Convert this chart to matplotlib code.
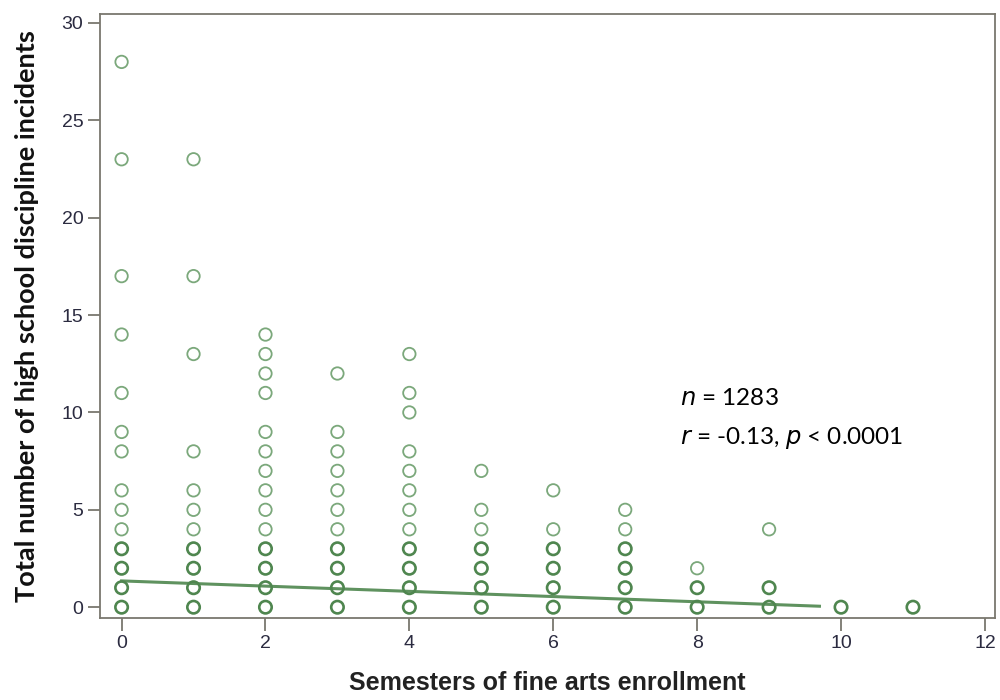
import numpy as np
import matplotlib
matplotlib.use("Agg")
import matplotlib.pyplot as plt

# distinct (semesters, incidents) values seen in each column
semesters = [0, 1, 2, 3, 4, 5, 6, 7, 8, 9, 10, 11]
incidents = [
    [0, 1, 2, 3, 4, 5, 6, 8, 9, 11, 14, 17, 23, 28],
    [0, 1, 2, 3, 4, 5, 6, 8, 13, 17, 23],
    [0, 1, 2, 3, 4, 5, 6, 7, 8, 9, 11, 12, 13, 14],
    [0, 1, 2, 3, 4, 5, 6, 7, 8, 9, 12],
    [0, 1, 2, 3, 4, 5, 6, 7, 8, 10, 11, 13],
    [0, 1, 2, 3, 4, 5, 7],
    [0, 1, 2, 3, 4, 6],
    [0, 1, 2, 3, 4, 5],
    [0, 1, 2],
    [0, 1, 4],
    [0],
    [0],
]
# fitted line end points (x) and values
fit_x = [0, 9.7]
fit_y = [1.35, 0.05]

xs = np.concatenate([[s] * len(v) for s, v in zip(semesters, incidents)])
ys = np.concatenate(incidents)

fig = plt.figure(figsize=(10, 7), dpi=100)
ax = fig.add_axes([0.1, 0.117, 0.895, 0.863])

# darker rings where the points pile up at low counts
dense = ((ys <= 3) & (xs <= 7)) | (ys <= 1)
ax.scatter(xs[~dense], ys[~dense], s=80, facecolors='none', edgecolors='#7ba87b', linewidths=1.3, zorder=3)
ax.scatter(xs[dense], ys[dense], s=80, facecolors='none', edgecolors='#4f864f', linewidths=1.9, zorder=3)
ax.plot(fit_x, fit_y, color='#5f925f', lw=2.2, zorder=2)

ax.set_xlim(-0.3, 12.14)
ax.set_ylim(-0.56, 30.46)
ax.set_xticks(range(0, 13, 2))
ax.set_yticks(range(0, 31, 5))

for sp in ax.spines.values():
    sp.set_color('#7a776e')
    sp.set_linewidth(1.3)
ax.tick_params(direction='out', length=9, width=1.3, color='#7a776e', labelsize=14,
               labelcolor='#2b2b40', pad=3)
for lab in ax.get_xticklabels() + ax.get_yticklabels():
    lab.set_family('Liberation Sans')

ax.set_xlabel('Semesters of fine arts enrollment', family='Liberation Sans', fontweight='bold',
              fontsize=18, color='#222222', labelpad=14)
ax.set_ylabel('Total number of high school discipline incidents', family='Lato', fontweight='bold',
              fontsize=19.5, color='#111111', labelpad=16)

ax.text(7.76, 10.7, '$\\it{n}$ = 1283', family='Lato', fontsize=17.5, va='center')
ax.text(7.76, 8.7, '$\\it{r}$ = -0.13, $\\it{p}$ < 0.0001', family='Lato', fontsize=17.5, va='center')

fig.savefig('out.png', dpi=100)
